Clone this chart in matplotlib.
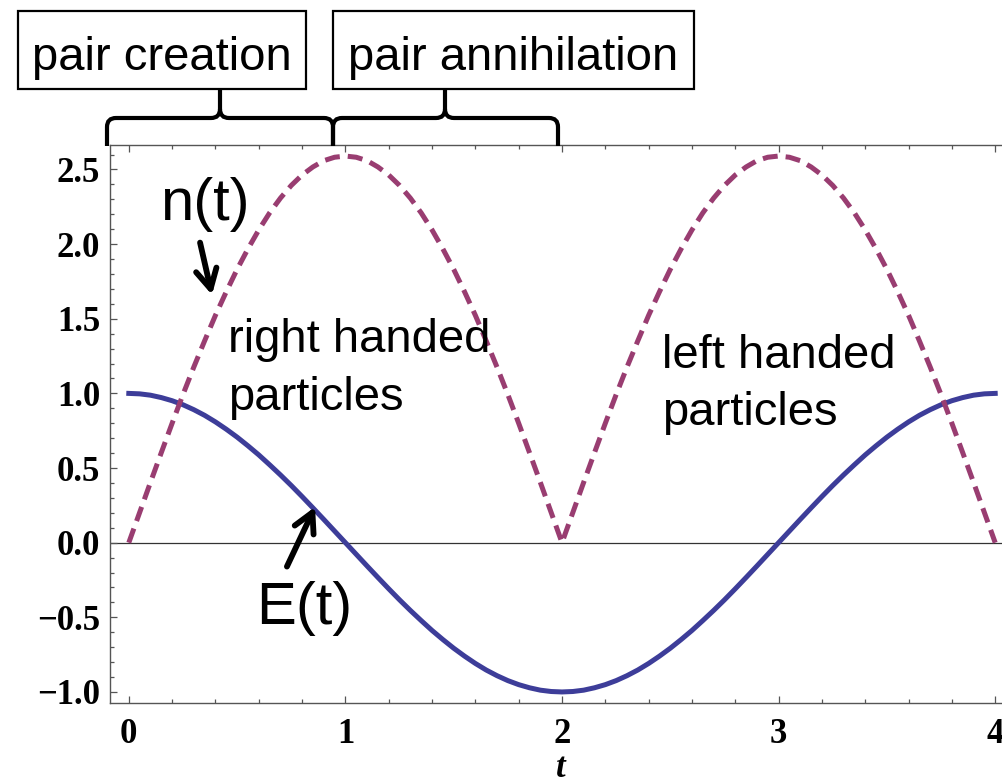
import matplotlib
matplotlib.use("Agg")
import matplotlib.pyplot as plt
from matplotlib.path import Path
from matplotlib.patches import PathPatch, Rectangle
from matplotlib.ticker import MultipleLocator, FuncFormatter

# time samples and the two curves
t = [0.00, 0.05, 0.10, 0.15, 0.20, 0.25, 0.30, 0.35, 0.40, 0.45,
     0.50, 0.55, 0.60, 0.65, 0.70, 0.75, 0.80, 0.85, 0.90, 0.95,
     1.00, 1.05, 1.10, 1.15, 1.20, 1.25, 1.30, 1.35, 1.40, 1.45,
     1.50, 1.55, 1.60, 1.65, 1.70, 1.75, 1.80, 1.85, 1.90, 1.95,
     2.00, 2.05, 2.10, 2.15, 2.20, 2.25, 2.30, 2.35, 2.40, 2.45,
     2.50, 2.55, 2.60, 2.65, 2.70, 2.75, 2.80, 2.85, 2.90, 2.95,
     3.00, 3.05, 3.10, 3.15, 3.20, 3.25, 3.30, 3.35, 3.40, 3.45,
     3.50, 3.55, 3.60, 3.65, 3.70, 3.75, 3.80, 3.85, 3.90, 3.95, 4.00]
E = [1.000, 0.997, 0.988, 0.972, 0.951, 0.924, 0.891, 0.853, 0.809, 0.760,
     0.707, 0.649, 0.588, 0.522, 0.454, 0.383, 0.309, 0.233, 0.156, 0.078,
     0.000, -0.078, -0.156, -0.233, -0.309, -0.383, -0.454, -0.522, -0.588, -0.649,
     -0.707, -0.760, -0.809, -0.853, -0.891, -0.924, -0.951, -0.972, -0.988, -0.997,
     -1.000, -0.997, -0.988, -0.972, -0.951, -0.924, -0.891, -0.853, -0.809, -0.760,
     -0.707, -0.649, -0.588, -0.522, -0.454, -0.383, -0.309, -0.233, -0.156, -0.078,
     0.000, 0.078, 0.156, 0.233, 0.309, 0.383, 0.454, 0.522, 0.588, 0.649,
     0.707, 0.760, 0.809, 0.853, 0.891, 0.924, 0.951, 0.972, 0.988, 0.997, 1.000]
n = [0.000, 0.202, 0.404, 0.603, 0.800, 0.992, 1.176, 1.352, 1.523, 1.681,
     1.831, 1.968, 2.095, 2.209, 2.308, 2.393, 2.463, 2.517, 2.559, 2.582,
     2.590, 2.582, 2.559, 2.517, 2.463, 2.393, 2.308, 2.209, 2.095, 1.968,
     1.831, 1.681, 1.523, 1.352, 1.176, 0.992, 0.800, 0.603, 0.404, 0.202,
     0.000, 0.202, 0.404, 0.603, 0.800, 0.992, 1.176, 1.352, 1.523, 1.681,
     1.831, 1.968, 2.095, 2.209, 2.308, 2.393, 2.463, 2.517, 2.559, 2.582,
     2.590, 2.582, 2.559, 2.517, 2.463, 2.393, 2.308, 2.209, 2.095, 1.968,
     1.831, 1.681, 1.523, 1.352, 1.176, 0.992, 0.800, 0.603, 0.404, 0.202, 0.000]

W, H = 1003, 784
blue = "#3d3d99"
purple = "#993d71"
sans = "Liberation Sans"

plt.rcParams['font.family'] = ['Liberation Serif']

fig = plt.figure(figsize=(W / 100, H / 100), dpi=100)
ax = fig.add_axes([110 / W, 81 / H, (W - 110) / W, (703 - 145) / H])

def fx(px):
    return px / W

def fy(py):
    return 1 - py / H

ax.axhline(0, color="#333333", lw=0.9, zorder=1)
ax.plot(t, E, color=blue, lw=3.6, zorder=3, solid_joinstyle='round')
ax.plot(t, n, color=purple, lw=3.6, dashes=(3, 1.6), zorder=3)

ax.set_xlim(-0.0868, 4.036)
ax.set_ylim(-1.074, 2.664)
ax.xaxis.set_major_locator(MultipleLocator(1))
ax.xaxis.set_minor_locator(MultipleLocator(0.2))
ax.yaxis.set_major_locator(MultipleLocator(0.5))
ax.yaxis.set_minor_locator(MultipleLocator(0.1))
ax.yaxis.set_major_formatter(FuncFormatter(lambda v, p: ("%.1f" % v).replace("-", "\u2212")))
ax.spines['right'].set_visible(False)
for s in ['left', 'bottom', 'top']:
    ax.spines[s].set_color("#555555")
    ax.spines[s].set_linewidth(1.0)
ax.tick_params(which='both', direction='in', top=True, right=False,
               color="#555555", width=0.9)
ax.tick_params(which='major', length=5)
ax.tick_params(which='minor', length=3)
ax.tick_params(axis='y', labelsize=25, pad=7)
ax.tick_params(axis='x', labelsize=25, pad=11)
for lab in ax.get_xticklabels() + ax.get_yticklabels():
    lab.set_fontweight('bold')

fig.text(fx(561), fy(777), "t", fontsize=25, fontweight='bold',
         fontstyle='italic', ha='center', va='baseline')

# curve labels with arrows
ax.text(0.144, 2.16, "n(t)", fontsize=43, family=sans)
ax.text(0.588, -0.546, "E(t)", fontsize=43, family=sans)
arrow = dict(arrowstyle="->,head_length=1.4,head_width=0.75",
             lw=4.2, color="black", shrinkA=0, shrinkB=0)
ax.annotate("", xy=(0.384, 1.66), xytext=(0.329, 2.01), arrowprops=arrow)
ax.annotate("", xy=(0.86, 0.24), xytext=(0.73, -0.16), arrowprops=arrow)

ax.text(0.458, 1.277, "right handed", fontsize=34, family=sans)
ax.text(0.458, 0.89, "particles", fontsize=34, family=sans)
ax.text(2.462, 1.17, "left handed", fontsize=34, family=sans)
ax.text(2.462, 0.787, "particles", fontsize=34, family=sans)

# boxes on top
for x0, x1, label in [(18, 306, "pair creation"), (333, 694, "pair annihilation")]:
    fig.patches.append(Rectangle((fx(x0), fy(89)), fx(x1) - fx(x0), fy(11) - fy(89),
                                 transform=fig.transFigure, fill=False,
                                 lw=1.6, edgecolor="black"))
    fig.text(fx((x0 + x1) / 2), fy(70), label, fontsize=34, family=sans,
             ha='center', va='baseline')

# curly braces under the boxes
def brace(x0, x1, xm, y_end=146, y_bar=118, y_tip=88, r=9):
    pts = [(x0, y_end), (x0, y_bar + r), (x0, y_bar), (x0 + r, y_bar),
           (xm - r, y_bar), (xm, y_bar), (xm, y_bar - r), (xm, y_tip),
           (xm, y_bar - r), (xm, y_bar), (xm + r, y_bar),
           (x1 - r, y_bar), (x1, y_bar), (x1, y_bar + r), (x1, y_end)]
    codes = [Path.MOVETO, Path.LINETO, Path.CURVE3, Path.CURVE3,
             Path.LINETO, Path.CURVE3, Path.CURVE3, Path.LINETO,
             Path.MOVETO, Path.CURVE3, Path.CURVE3,
             Path.LINETO, Path.CURVE3, Path.CURVE3, Path.LINETO]
    verts = [(fx(a), fy(b)) for a, b in pts]
    fig.patches.append(PathPatch(Path(verts, codes), transform=fig.transFigure,
                                 fill=False, lw=3.0, edgecolor="black"))

brace(107, 333, 220)
brace(333, 558, 445)

fig.savefig("out.png", dpi=100)
